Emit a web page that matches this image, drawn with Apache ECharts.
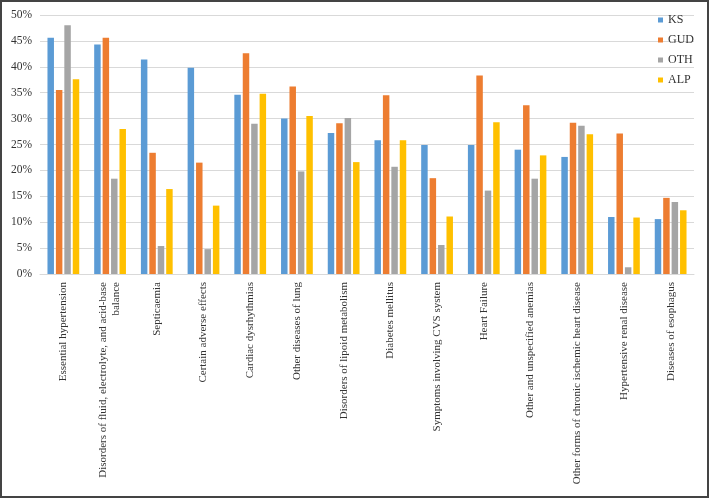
<!DOCTYPE html>
<html>
<head>
<meta charset="utf-8">
<script src="https://cdn.jsdelivr.net/npm/echarts@6/dist/echarts.min.js"></script>
<style>
  html, body { margin: 0; padding: 0; background: #fff; }
  #frame { width: 709px; height: 498px; box-sizing: border-box; border: 2px solid #444; }
  #chart { width: 705px; height: 494px; }
</style>
</head>
<body>
<div id="frame"><div id="chart"></div></div>
<script>
const categories = [
  'Essential hypertension',
  'Disorders of fluid, electrolyte, and acid-base\nbalance',
  'Septicaemia',
  'Certain adverse effects',
  'Cardiac dysrhythmias',
  'Other diseases of lung',
  'Disorders of lipoid metabolism',
  'Diabetes mellitus',
  'Symptoms involving CVS system',
  'Heart Failure',
  'Other and unspecified anemias',
  'Other forms of chronic ischemic heart disease',
  'Hypertensive renal disease',
  'Diseases of esophagus'
]
const ks  = [45.6, 44.3, 41.4, 39.8, 34.6, 30.0, 27.2, 25.8, 24.9, 24.9, 24.0, 22.6, 11.0, 10.6]
const gud = [35.5, 45.6, 23.4, 21.5, 42.6, 36.2, 29.1, 34.5, 18.5, 38.3, 32.6, 29.2, 27.1, 14.7]
const oth = [48.0, 18.4, 5.4, 4.8, 29.0, 19.8, 30.1, 20.7, 5.6, 16.1, 18.4, 28.6, 1.3, 13.9]
const alp = [37.6, 28.0, 16.4, 13.2, 34.8, 30.5, 21.6, 25.8, 11.1, 29.3, 22.9, 27.0, 10.9, 12.3]
const yTicks = [0, 5, 10, 15, 20, 25, 30, 35, 40, 45, 50]

const serif = '"Liberation Serif", "DejaVu Serif", serif'
const myChart = echarts.init(document.getElementById('chart'))

const barOpt = (name, data, color) => ({
  name: name, type: 'bar', data: data,
  barGap: '30%', barCategoryGap: '32%',
  itemStyle: {color: color}
})

const option = {
  animation: false,
  textStyle: {fontFamily: serif},
  grid: {left: 38, right: 13, top: 13, bottom: 222, containLabel: false, outerBoundsMode: 'none'},
  legend: {
    orient: 'vertical', right: 8, top: 7,
    itemWidth: 5, itemHeight: 5, itemGap: 8, icon: 'rect',
    textStyle: {fontFamily: serif, fontSize: 12, color: '#333', lineHeight: 12},
    data: ['KS', 'GUD', 'OTH', 'ALP']
  },
  xAxis: {
    type: 'category',
    data: categories,
    axisLine: {lineStyle: {color: '#d9d9d9'}},
    axisTick: {show: false},
    axisLabel: {
      rotate: 90, interval: 0, margin: 8,
      fontFamily: serif, fontSize: 11, color: '#333', lineHeight: 13
    }
  },
  yAxis: {
    type: 'value', min: yTicks[0], max: yTicks[yTicks.length - 1], interval: 5,
    axisLine: {show: false},
    axisTick: {show: false},
    splitLine: {lineStyle: {color: '#d9d9d9'}},
    axisLabel: {formatter: '{value}%', fontFamily: serif, fontSize: 11.5, color: '#333', margin: 8}
  },
  series: [
    barOpt('KS', ks, '#5b9bd5'),
    barOpt('GUD', gud, '#ed7d31'),
    barOpt('OTH', oth, '#a5a5a5'),
    barOpt('ALP', alp, '#ffc000')
  ]
}
myChart.setOption(option)
</script>
</body>
</html>
